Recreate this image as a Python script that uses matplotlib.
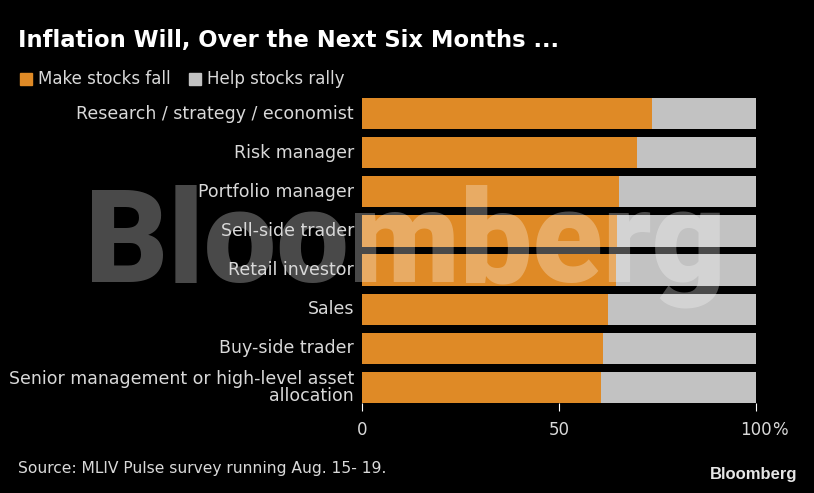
import numpy as np
import matplotlib.pyplot as plt

categories = ["Research / strategy / economist", "Risk manager", "Portfolio manager",
              "Sell-side trader", "Retail investor", "Sales", "Buy-side trader",
              "Senior management or high-level asset\nallocation"]
fall = [73.6, 69.7, 65.3, 64.8, 64.4, 62.4, 61.1, 60.7]
rally = [100 - f for f in fall]
xticks = [0, 50, 100]
xticklabels = ["0", "50", "100"]

orange = "#df8a26"
grey = "#c2c2c2"
txt = "#d9d9d9"
plt.rcParams['font.family'] = ['DejaVu Sans']

fig = plt.figure(figsize=(8.14, 4.93), dpi=100, facecolor="black")
ax = fig.add_axes([362/814, 90/493, 394/814, 305/493])
ax.set_facecolor("black")

y = np.arange(len(categories))
ax.barh(y, fall, height=0.8, color=orange, zorder=2)
ax.barh(y, rally, left=fall, height=0.8, color=grey, zorder=2)
ax.set_ylim(len(categories) - 0.6, -0.4)
ax.set_xlim(0, 100)

for s in ax.spines.values():
    s.set_visible(False)
ax.set_yticks([])
ax.set_xticks(xticks)
ax.set_xticklabels(xticklabels, color=txt, fontsize=12)
ax.tick_params(axis='x', colors="white", length=6, width=0.8, pad=7, labelcolor=txt)
# percent sign sits after the last tick label
ax.annotate("%", xy=(100, 0), xycoords=("data", "axes fraction"), xytext=(11.5, -13),
            textcoords="offset points", ha="left", va="top", color=txt, fontsize=12)

for i, c in enumerate(categories):
    ax.text(-2, i, c, ha="right", va="center", color=txt, fontsize=12.5,
            linespacing=0.9, zorder=6)

# watermark
ax.text(85/814, 1 - 282/493, "Bloomberg", transform=fig.transFigure, ha="left",
        va="baseline", fontsize=93, fontweight="black", family=["Roboto", "Liberation Sans"],
        color="white", alpha=0.29, zorder=5)

fig.text(18/814, 1 - 40/493, "Inflation Will, Over the Next Six Months ...", color="white",
         fontsize=16.3, fontweight="bold", va="center", ha="left")
fig.patches.append(plt.Rectangle((20/814, 1 - 85/493), 12/814, 12/493, transform=fig.transFigure,
                                 color=orange))
fig.text(38/814, 1 - 79/493, "Make stocks fall", color=txt, fontsize=12, va="center")
fig.patches.append(plt.Rectangle((189/814, 1 - 85/493), 12/814, 12/493, transform=fig.transFigure,
                                 color=grey))
fig.text(207/814, 1 - 79/493, "Help stocks rally", color=txt, fontsize=12, va="center")

fig.text(18/814, 1 - 469/493, "Source: MLIV Pulse survey running Aug. 15- 19.", color=txt,
         fontsize=11.2, va="center")
fig.text(797/814, 1 - 475/493, "Bloomberg", color="#e6e6e6", fontsize=12, fontweight="bold",
         family="Liberation Sans", va="center", ha="right")

fig.savefig("out.png", dpi=100, facecolor="black")
